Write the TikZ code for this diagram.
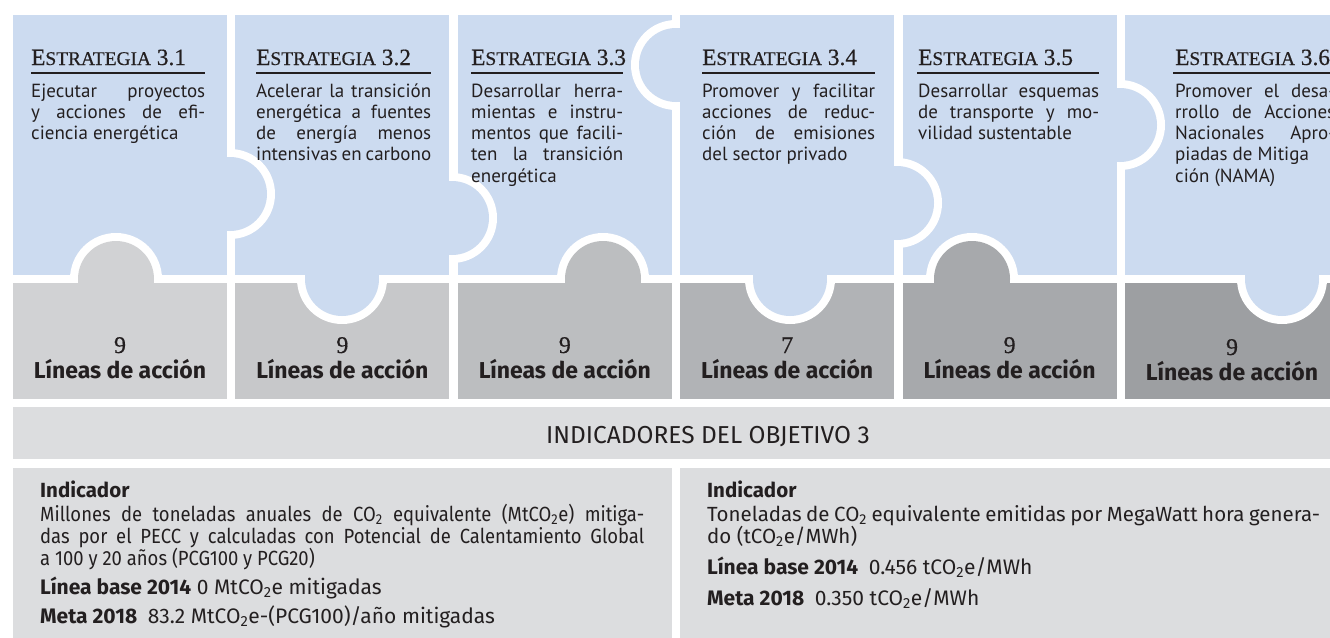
\documentclass[tikz,border=0pt]{standalone}
\usepackage{fontspec}
\newfontfamily\ptsans{PT Sans}
\newfontfamily\firasans{Fira Sans}
\newfontfamily\firanarrow{Fira Sans}[FakeStretch=0.9]
\newfontfamily\libserif{Liberation Serif}[FakeBold=0.5]
\definecolor{stratblue}{HTML}{CCDBF0}
\definecolor{gray1}{HTML}{D1D2D4}
\definecolor{gray2}{HTML}{C7C8CA}
\definecolor{gray3}{HTML}{BCBEC0}
\definecolor{gray4}{HTML}{B1B3B6}
\definecolor{gray5}{HTML}{A7A9AC}
\definecolor{gray6}{HTML}{9D9FA2}
\definecolor{indgray}{HTML}{DCDDDF}
\definecolor{inktext}{HTML}{231F20}
\hbadness=10000
% strategy title in small capitals
\newcommand{\stratname}[1]{\fontsize{23.3}{24}\selectfont E\fontsize{19.4}{24}\selectfont STRATEGIA\fontsize{23.3}{24}\selectfont\ #1}

\begin{document}
\begin{tikzpicture}[x=1pt, y=1pt,
    headtext/.style={anchor=base west, inner sep=0pt, text=inktext, font=\libserif},
    headrule/.style={draw=inktext, line width=1.4pt},
    bodytext/.style={anchor=base west, inner sep=0pt, text=inktext, text width=#1, align=justify, font=\ptsans\fontsize{19}{21.3}\selectfont},
    numtext/.style={anchor=base, inner sep=0pt, text=inktext, font=\libserif\fontsize{24}{26}\selectfont},
    linestext/.style={anchor=base, inner sep=0pt, text=inktext, font=\firasans\bfseries\fontsize{23}{25}\selectfont},
    indtext/.style={anchor=base west, inner sep=0pt, text=inktext, font=\firasans\fontsize{21}{22}\selectfont},
    indhead/.style={indtext, font=\firasans\bfseries\fontsize{20.5}{22}\selectfont},
    inddesc/.style={indtext, text width=#1, align=justify, font=\firasans\fontsize{20.5}{22}\selectfont}
  ]
    \useasboundingbox (0,0) rectangle (1330,-637);
    \clip (0,0) rectangle (1330,-637);
    \fill[white] (0,0) rectangle (1330,-637);

    % Puzzle pieces: strategy (blue) over action lines (gray)
    \foreach \i/\shade in {0/gray1,1/gray2,2/gray3,3/gray4,4/gray5,5/gray6} {
        \fill[stratblue] (13+222.4*\i,-15) rectangle ++(214,-260);
        \fill[\shade] (13+222.4*\i,-283) rectangle ++(214,-116);
    }

    % Side tabs pointing right
    \foreach \gx/\gy in {230/194, 452/218, 897/203, 1120/125} {
        \begin{scope}
            \clip (\gx,-\gy+50) rectangle (\gx+50,-\gy-50);
            \fill[white] (\gx,-\gy) circle (45);
        \end{scope}
        \fill[stratblue] (\gx,-\gy) circle (37);
    }
    % Side tab pointing left
    \begin{scope}
        \clip (676,-15) rectangle (625,-120);
        \fill[white] (676,-65) circle (45);
    \end{scope}
    \fill[stratblue] (676,-65) circle (37);

    % Gray tabs pointing up
    \foreach \gx/\shade in {116/gray1, 603/gray3, 972/gray5} {
        \begin{scope}
            \clip (\gx-50,-229) rectangle (\gx+50,-279);
            \fill[white] (\gx,-279) circle (46);
        \end{scope}
        \fill[\shade] (\gx,-279) circle (38);
    }
    % Blue tabs pointing down
    \foreach \gx in {342, 790, 1282} {
        \begin{scope}
            \clip (\gx-50,-279) rectangle (\gx+50,-329);
            \fill[white] (\gx,-279) circle (45);
        \end{scope}
        \fill[stratblue] (\gx,-279) circle (37);
    }

    % Strategy headings
    \node[headtext] (head1) at (31,-65) {\stratname{3.1}};
    \node[headtext] (head2) at (256,-65) {\stratname{3.2}};
    \node[headtext] (head3) at (471,-65) {\stratname{3.3}};
    \node[headtext] (head4) at (702,-65) {\stratname{3.4}};
    \node[headtext] (head5) at (918,-65) {\stratname{3.5}};
    \node[headtext] (head6) at (1175,-65) {\stratname{3.6}};
    \draw[headrule] (31,-73) -- ++(174,0);
    \draw[headrule] (256,-73) -- ++(175,0);
    \draw[headrule] (471,-73) -- ++(152,0);
    \draw[headrule] (702,-73) -- ++(173,0);
    \draw[headrule] (917,-73) -- ++(182,0);
    \draw[headrule] (1173,-73) -- ++(174,0);

    % Strategy texts
    \node[bodytext=174] (body1) at (31,-97) {Ejecutar proyectos\linebreak y acciones de efi-\linebreak ciencia energética};
    \node[bodytext=175] (body2) at (256,-97) {Acelerar la transición\linebreak energética a fuentes\linebreak de energía menos\linebreak intensivas en carbono};
    \node[bodytext=152] (body3) at (471,-97) {Desarrollar herra-\linebreak mientas e instru-\linebreak mentos que facili-\linebreak ten la transición\linebreak energética};
    \node[bodytext=173] (body4) at (702,-97) {Promover y facilitar\linebreak acciones de reduc-\linebreak ción de emisiones\linebreak del sector privado};
    \node[bodytext=181] (body5) at (918,-97) {Desarrollar esquemas\linebreak de transporte y mo-\linebreak vilidad sustentable};
    \node[bodytext=160] (body6) at (1175,-97) {Promover el desa-\linebreak rrollo de Acciones\linebreak Nacionales Apro-\linebreak piadas de Mitiga\newline ción (NAMA)};

    % Action lines
    \foreach \i/\num in {1/9, 2/9, 3/9, 4/7, 5/9} {
        \node[numtext] (num\i) at (120+222.4*\i-222.4,-353) {\num};
        \node[linestext] (lines\i) at (120+222.4*\i-222.4,-378) {Líneas de acción};
    }
    \node[numtext] (num6) at (1232,-355) {9};
    \node[linestext] (lines6) at (1232,-380) {Líneas de acción};

    % Objective indicators
    \fill[indgray] (13,-407) rectangle (1340,-459);
    \node[anchor=base, inner sep=0pt, text=inktext, font=\firasans\fontsize{24.5}{26}\selectfont] (indtitle) at (708,-443) {INDICADORES DEL OBJETIVO 3};
    \fill[indgray] (13,-468) rectangle (672,-640);
    \fill[indgray] (680,-468) rectangle (1340,-640);

    \node[indhead] (indA) at (40,-497) {Indicador};
    \node[inddesc=604, font=\firanarrow\fontsize{20.5}{22}\selectfont] (descA) at (40,-521) {Millones de toneladas anuales de CO\textsubscript{2} equivalente (MtCO\textsubscript{2}e) mitiga-\linebreak das por el PECC y calculadas con Potencial de Calentamiento Global\linebreak a 100 y 20 años (PCG100 y PCG20)};
    \node[indtext] (baseA) at (40,-594) {\textbf{Línea base 2014} 0 MtCO\textsubscript{2}e mitigadas};
    \node[indtext] (metaA) at (40,-623) {\textbf{Meta 2018}\enspace 83.2 MtCO\textsubscript{2}e-(PCG100)/año mitigadas};

    \node[indhead] (indB) at (707,-497) {Indicador};
    \node[inddesc=613] (descB) at (707,-521) {Toneladas de CO\textsubscript{2} equivalente emitidas por MegaWatt hora genera-\linebreak do (tCO\textsubscript{2}e/MWh)};
    \node[indtext] (baseB) at (707,-574) {\textbf{Línea base 2014}\enspace 0.456 tCO\textsubscript{2}e/MWh};
    \node[indtext] (metaB) at (707,-605) {\textbf{Meta 2018}\enspace 0.350 tCO\textsubscript{2}e/MWh};
\end{tikzpicture}
\end{document}
